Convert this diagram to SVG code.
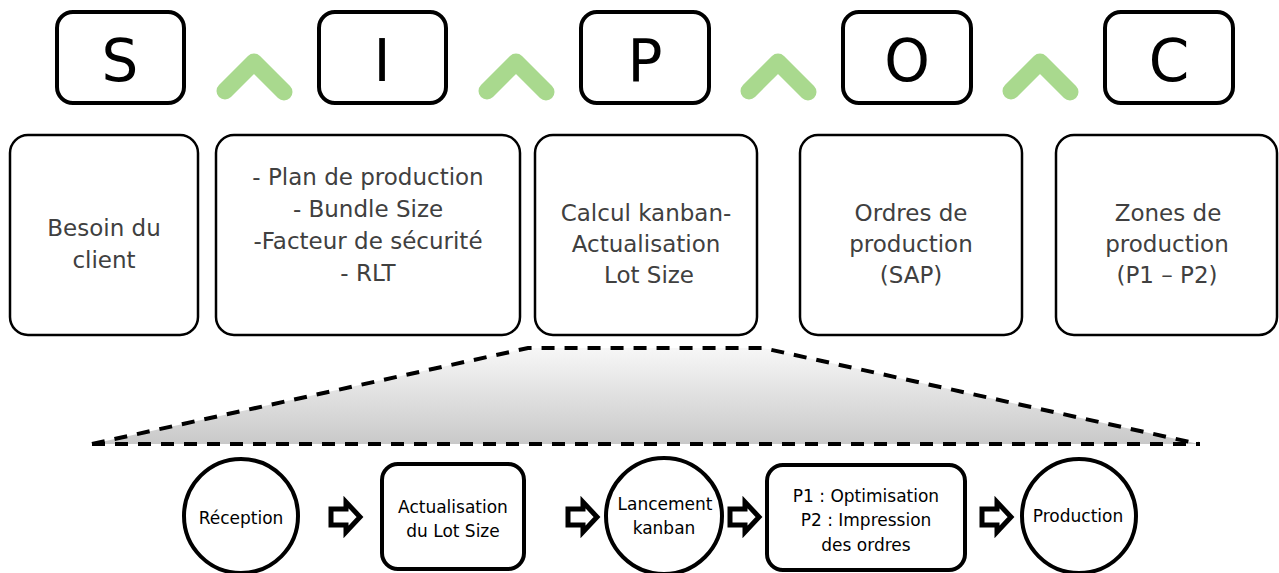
<svg xmlns="http://www.w3.org/2000/svg" width="1279" height="573" viewBox="0 0 1279 573">
<style>
.letter{fill:#fff;stroke:#000;stroke-width:4}
.lt{font-family:"DejaVu Sans",Verdana,sans-serif;font-size:58px;fill:#000;text-anchor:middle}
.chev{fill:none;stroke:#A9D98E;stroke-width:17;stroke-linecap:round;stroke-linejoin:round}
.box{fill:#fff;stroke:#000;stroke-width:2.5}
.bt{font-family:"DejaVu Sans",Verdana,sans-serif;font-size:23px;fill:#404040;text-anchor:middle}
.st{font-family:"DejaVu Sans",Verdana,sans-serif;font-size:17px;fill:#000;text-anchor:middle}
.step{fill:#fff;stroke:#000;stroke-width:4}
.arr{fill:#fff;stroke:#000;stroke-width:5;stroke-linejoin:miter}
.dash{fill:none;stroke:#000;stroke-width:4;stroke-dasharray:13 10}
</style>
<defs>
<linearGradient id="g" x1="0" y1="0" x2="0" y2="1">
<stop offset="0" stop-color="#f7f7f7"/>
<stop offset="1" stop-color="#c9c9c9"/>
</linearGradient>
<path id="blk" d="M0,-8 H15 V-15 L29,0 L15,15 V8 H0 Z"/>
</defs>

<g id="zoom-area">
<path d="M92,444 L528,348 L763,348 L1199,444 Z" fill="url(#g)"/>
<path class="dash" d="M92,444 L528,348 L763,348 L1199,444"/>
<path class="dash" d="M92,444 H1200"/>
</g>

<g id="letter-S"><rect class="letter" x="57" y="12" width="127" height="91" rx="16"/><text class="lt" x="120" y="81">S</text></g>
<g id="letter-I"><rect class="letter" x="319" y="12" width="127" height="91" rx="16"/><text class="lt" x="382" y="81">I</text></g>
<g id="letter-P"><rect class="letter" x="581" y="12" width="128" height="91" rx="16"/><text class="lt" x="645" y="81">P</text></g>
<g id="letter-O"><rect class="letter" x="843" y="12" width="128" height="91" rx="16"/><text class="lt" x="907" y="81">O</text></g>
<g id="letter-C"><rect class="letter" x="1105" y="12" width="128" height="91" rx="16"/><text class="lt" x="1169" y="81">C</text></g>

<g id="connectors">
<path class="chev" d="M225,91 L254,62 L284,92"/>
<path class="chev" d="M487,91 L516,62 L546,92"/>
<path class="chev" d="M749,91 L778,62 L808,92"/>
<path class="chev" d="M1011,91 L1040,62 L1070,92"/>
<use href="#blk" class="arr" x="331" y="517"/>
<use href="#blk" class="arr" x="568" y="517"/>
<use href="#blk" class="arr" x="730" y="517"/>
<use href="#blk" class="arr" x="982" y="517"/>
</g>

<g id="box-supplier"><rect class="box" x="10" y="135" width="188" height="200" rx="18"/>
<text class="bt" x="104" y="236">Besoin du</text><text class="bt" x="104" y="268">client</text></g>
<g id="box-input"><rect class="box" x="216" y="135" width="304" height="200" rx="18"/>
<text class="bt" x="368" y="185">- Plan de production</text>
<text class="bt" x="368" y="217">- Bundle Size</text>
<text class="bt" x="368" y="249">-Facteur de sécurité</text>
<text class="bt" x="368" y="281">- RLT</text></g>
<g id="box-process"><rect class="box" x="535" y="135" width="222" height="200" rx="18"/>
<text class="bt" x="646" y="221">Calcul kanban-</text>
<text class="bt" x="646" y="252">Actualisation</text>
<text class="bt" x="649" y="283">Lot Size</text></g>
<g id="box-output"><rect class="box" x="800" y="135" width="222" height="200" rx="18"/>
<text class="bt" x="911" y="221">Ordres de</text>
<text class="bt" x="911" y="252">production</text>
<text class="bt" x="911" y="283">(SAP)</text></g>
<g id="box-customer"><rect class="box" x="1056" y="135" width="221" height="200" rx="18"/>
<text class="bt" x="1168" y="221">Zones de</text>
<text class="bt" x="1167" y="252">production</text>
<text class="bt" x="1167" y="283">(P1 – P2)</text></g>

<g id="step-reception"><circle class="step" cx="241" cy="516" r="57"/>
<text class="st" x="241" y="524">Réception</text></g>
<g id="step-actualisation"><rect class="step" x="382" y="464" width="142" height="105" rx="16"/>
<text class="st" x="453" y="513">Actualisation</text>
<text class="st" x="453" y="537">du Lot Size</text></g>
<g id="step-lancement"><circle class="step" cx="664" cy="516" r="58"/>
<text class="st" x="665" y="510">Lancement</text>
<text class="st" x="664" y="534">kanban</text></g>
<g id="step-impression"><rect class="step" x="767" y="465" width="198" height="105" rx="16"/>
<text class="st" x="866" y="502">P1 : Optimisation</text>
<text class="st" x="866" y="526">P2 : Impression</text>
<text class="st" x="866" y="551">des ordres</text></g>
<g id="step-production"><circle class="step" cx="1079" cy="516" r="57"/>
<text class="st" x="1078" y="522">Production</text></g>
</svg>
